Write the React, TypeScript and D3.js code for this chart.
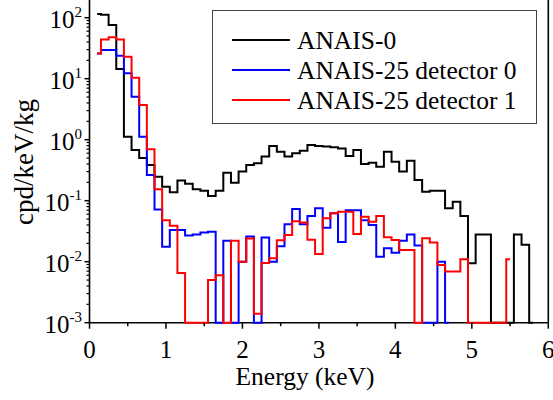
import React from "react";
import * as d3 from "d3";

const energy = [
  0.1, 0.2, 0.3, 0.4, 0.5, 0.6, 0.7, 0.8, 0.9, 1.0,
  1.1, 1.2, 1.3, 1.4, 1.5, 1.6, 1.7, 1.8, 1.9, 2.0,
  2.1, 2.2, 2.3, 2.4, 2.5, 2.6, 2.7, 2.8, 2.9, 3.0,
  3.1, 3.2, 3.3, 3.4, 3.5, 3.6, 3.7, 3.8, 3.9, 4.0,
  4.1, 4.2, 4.3, 4.4, 4.5, 4.6, 4.7, 4.8, 4.9, 5.0,
  5.1, 5.2, 5.3, 5.4, 5.5, 5.6, 5.7, 5.8,
];

const anais0 = [
  115, 112, 76, 14.4, 1.12, 0.68, 0.5, 0.385, 0.247, 0.17,
  0.138, 0.215, 0.19, 0.154, 0.146, 0.119, 0.146, 0.288, 0.197, 0.3,
  0.385, 0.41, 0.53, 0.79, 0.636, 0.53, 0.6, 0.66, 0.82, 0.79,
  0.77, 0.75, 0.72, 0.54, 0.68, 0.4, 0.42, 0.36, 0.636, 0.436,
  0.3, 0.45, 0.218, 0.14, 0.146, 0.146, 0.075, 0.096, 0.056, 0.0094,
  0.028, 0.028, 0, 0, 0, 0.028, 0.019, 0,
];

const det0 = [
  26, 29.5, 29.5, 23.8, 12.3, 5.07, 1.12, 0.264, 0.072, 0.0176,
  0.033, 0.033, 0.027, 0.028, 0.03, 0.031, 0, 0.022, 0, 0.01,
  0.026, 0, 0.025, 0.01, 0.018, 0.041, 0.073, 0.041, 0.056, 0.075,
  0.036, 0.062, 0.021, 0.07, 0.07, 0.048, 0.04, 0.012, 0.0166, 0.014,
  0.022, 0.028, 0.0185, 0, 0, 0.01, 0,
];

const det1 = [
  26, 44, 48, 44, 23, 10.4, 3.7, 0.7, 0.154, 0.048,
  0.039, 0.0065, 0, 0, 0, 0.005, 0.006, 0, 0.022, 0.01,
  0.024, 0.0014, 0.0095, 0.0114, 0.0225, 0.0274, 0.046, 0.044, 0.023, 0.0134,
  0.0515, 0.062, 0.066, 0.066, 0.0284, 0.0547, 0.045, 0.056, 0.0251, 0.0227,
  0.0155, 0.0155, 0, 0.0242, 0.0206, 0.0088, 0.0069, 0.0069, 0.011, 0,
  0, 0, 0, 0, 0.011,
];

const seriesNames = ["ANAIS-0", "ANAIS-25 detector 0", "ANAIS-25 detector 1"];
const seriesColors = ["#000000", "#0000ff", "#ff0000"];
const seriesValues = [anais0, det0, det1];

const xTicks = [0, 1, 2, 3, 4, 5, 6];
const xMinorTicks = [0.5, 1.5, 2.5, 3.5, 4.5, 5.5];
const yExponents = [-3, -2, -1, 0, 1, 2];

const W = 553;
const H = 400;
const tf = { fontFamily: '"Liberation Serif"' };

export default function App() {
  const x = d3.scaleLinear().domain([0, 6]).range([89.5, 548.3]);
  const y = d3.scaleLog().domain([1e-3, 1e2]).range([322.7, 17.7]);
  const yMin = 1e-3;

  const line = d3
    .line<[number, number]>()
    .x((d) => x(d[0]))
    .y((d) => y(Math.max(d[1], yMin)))
    .curve(d3.curveStep);

  const minorY: number[] = [];
  for (let e = -3; e < 2; e++) {
    for (let m = 2; m <= 9; m++) minorY.push(m * Math.pow(10, e));
  }

  const x0 = x(0);
  const x6 = x(6);
  const yb = y(1e-3);

  return (
    <svg width={W} height={H} style={{ position: "absolute", left: 0, top: 0, background: "#fff" }}>
      <rect x={0} y={0} width={W} height={H} fill="#fff" />
      <line x1={x0} x2={x0} y1={0} y2={yb} stroke="#000" strokeWidth={1.6} />
      <line x1={x6} x2={x6} y1={0} y2={yb} stroke="#000" strokeWidth={1.6} />
      <line x1={x0} x2={x6} y1={yb} y2={yb} stroke="#000" strokeWidth={1.6} />

      {seriesValues.map((vals, si) => (
        <path
          key={si}
          d={line(vals.map((v, i) => [energy[i], v] as [number, number])) || ""}
          fill="none"
          stroke={seriesColors[si]}
          strokeWidth={2}
          strokeLinejoin="miter"
        />
      ))}

      {xTicks.map((t) => (
        <g key={"xt" + t}>
          <line x1={x(t)} x2={x(t)} y1={yb} y2={yb + 6} stroke="#000" strokeWidth={1.5} />
          <text x={x(t)} y={358} fontSize={25} textAnchor="middle" style={tf}>
            {t}
          </text>
        </g>
      ))}
      {xMinorTicks.map((t) => (
        <line key={"xm" + t} x1={x(t)} x2={x(t)} y1={yb} y2={yb + 3.5} stroke="#000" strokeWidth={1.5} />
      ))}
      <text x={305} y={385} fontSize={25.5} textAnchor="middle" style={tf}>
        Energy (keV)
      </text>

      {yExponents.map((e) => (
        <g key={"yt" + e}>
          <line x1={x0 - 5} x2={x0} y1={y(Math.pow(10, e))} y2={y(Math.pow(10, e))} stroke="#000" strokeWidth={1.5} />
          <text x={82} y={y(Math.pow(10, e)) + 10} fontSize={25} textAnchor="end" style={tf}>
            10
            <tspan fontSize={15} dy={-11}>
              {e < 0 ? "-" + String(-e) : String(e)}
            </tspan>
          </text>
        </g>
      ))}
      {minorY.map((v, i) => (
        <line key={"ym" + i} x1={x0 - 3} x2={x0} y1={y(v)} y2={y(v)} stroke="#000" strokeWidth={1.2} />
      ))}
      <text transform={`translate(33, 162) rotate(-90)`} fontSize={27} textAnchor="middle" style={tf}>
        cpd/keV/kg
      </text>

      <rect x={212.5} y={10.5} width={324} height={113} fill="#fff" stroke="#444" strokeWidth={1} />
      {seriesNames.map((n, i) => (
        <g key={"lg" + i}>
          <line x1={232} x2={290} y1={40 + i * 30} y2={40 + i * 30} stroke={seriesColors[i]} strokeWidth={2} />
          <text x={297} y={49 + i * 30} fontSize={25.5} style={tf}>
            {n}
          </text>
        </g>
      ))}
    </svg>
  );
}
